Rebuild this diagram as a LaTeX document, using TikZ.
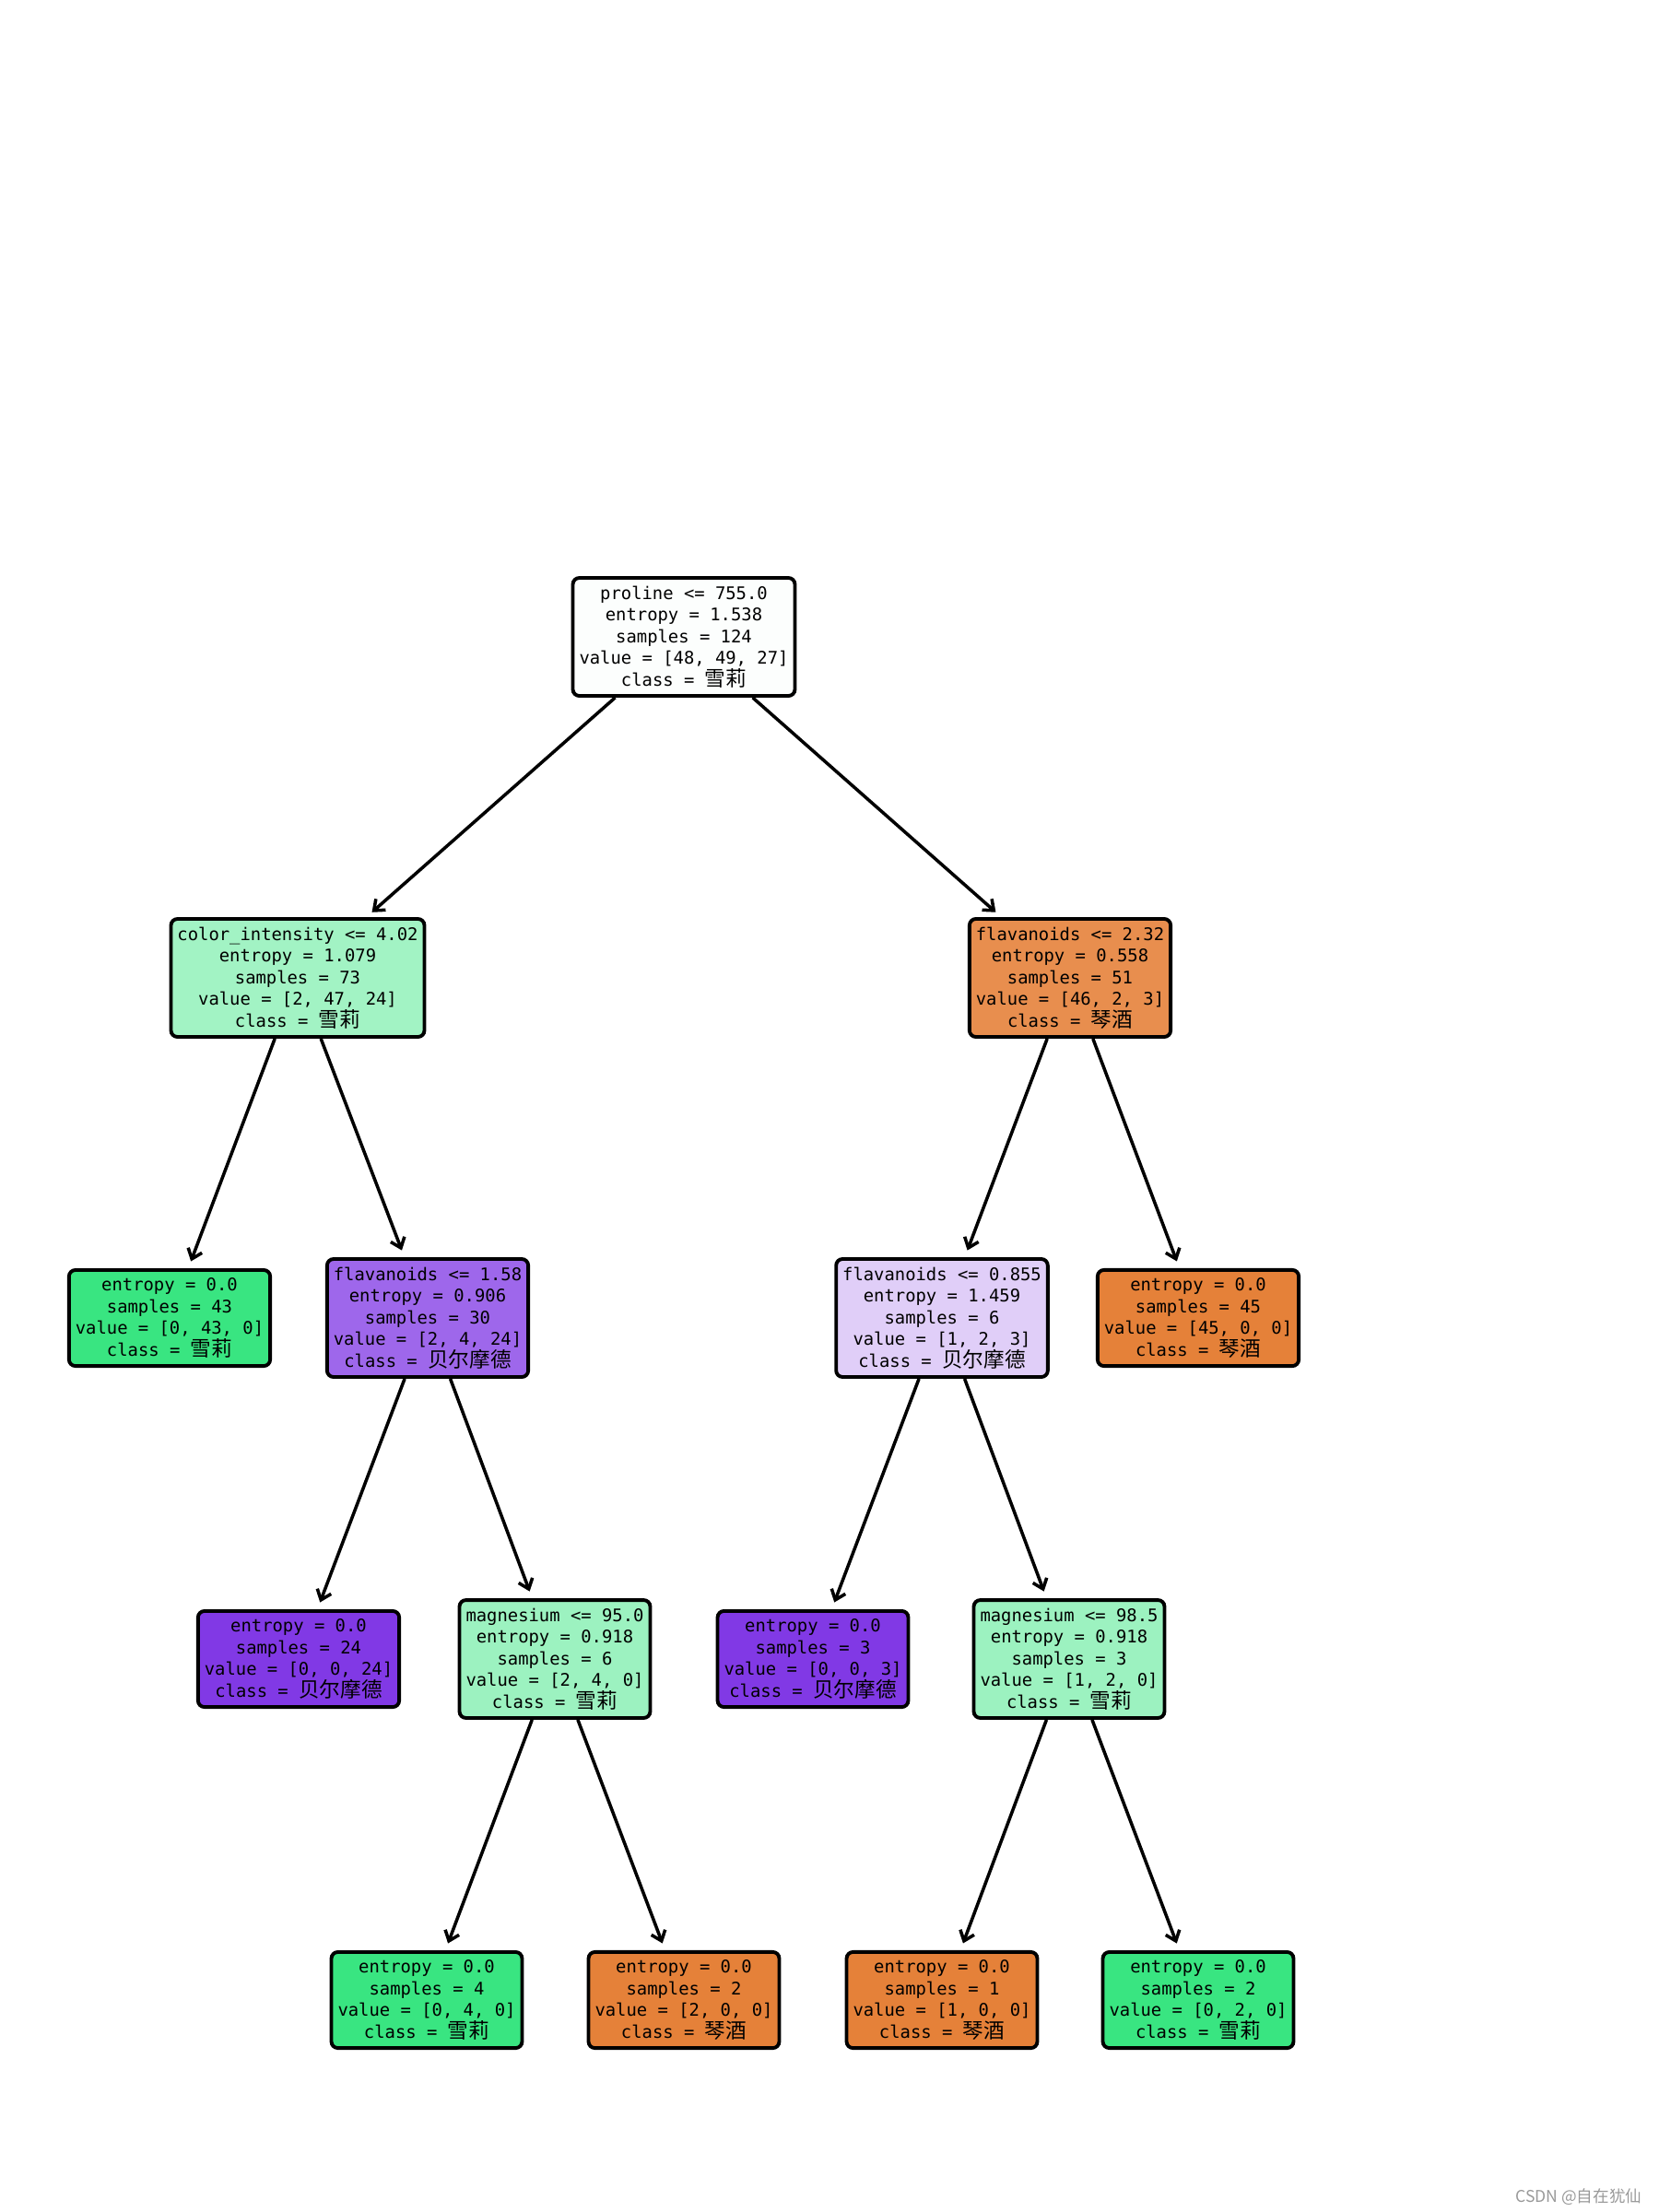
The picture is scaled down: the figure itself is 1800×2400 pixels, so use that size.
\documentclass[tikz,border=0pt]{standalone}
\usepackage{fontspec}
\newfontfamily\treefont{DejaVu Sans Mono}
\newfontfamily\cjk[Scale=1.2]{Noto Sans CJK SC}
\newfontfamily\markfont{Noto Sans CJK SC}
\usetikzlibrary{arrows.meta}
\definecolor{rootc}{HTML}{FCFEFD}
\definecolor{greenc}{HTML}{39E581}
\definecolor{orangec}{HTML}{E58139}
\definecolor{purplec}{HTML}{8139E5}
\definecolor{lgreen}{HTML}{A2F3C4}
\definecolor{mgreen}{HTML}{9CF2C0}
\definecolor{morange}{HTML}{E88E4E}
\definecolor{mpurple}{HTML}{9E67EB}
\definecolor{lpurple}{HTML}{E0CEF8}
\newcommand\tfont{\treefont\fontsize{5.36pt}{6.66pt}\selectfont\setlength{\lineskiplimit}{-5pt}}
\tikzset{
  tnode/.style={draw=black,rounded corners=0.7mm,line width=1.1pt,align=center,
                inner xsep=0.7mm,inner ysep=0.9mm,font=\tfont},
  gleaf/.style={tnode,fill=greenc},
  oleaf/.style={tnode,fill=orangec},
  pleaf/.style={tnode,fill=purplec},
  flow/.style ={-{Straight Barb[length=1mm,width=1.6mm]},line width=1pt,shorten >=0.8mm},
}
\begin{document}
\begin{tikzpicture}[x=0.01cm,y=-0.01cm]
  \useasboundingbox (0,0) rectangle (1800,2400);
  % depth 0
  \node[tnode,fill=rootc] (root) at (742,691)
    {proline <= 755.0\\entropy = 1.538\\samples = 124\\value = [48, 49, 27]\\class = {\cjk 雪莉}};
  % depth 1
  \node[tnode,fill=lgreen] (ci) at (323,1061)
    {color\_intensity <= 4.02\\entropy = 1.079\\samples = 73\\value = [2, 47, 24]\\class = {\cjk 雪莉}};
  \node[tnode,fill=morange] (fa) at (1161,1061)
    {flavanoids <= 2.32\\entropy = 0.558\\samples = 51\\value = [46, 2, 3]\\class = {\cjk 琴酒}};
  % depth 2
  \node[gleaf] (l43) at (184,1430)
    {entropy = 0.0\\samples = 43\\value = [0, 43, 0]\\class = {\cjk 雪莉}};
  \node[tnode,fill=mpurple] (fb) at (464,1430)
    {flavanoids <= 1.58\\entropy = 0.906\\samples = 30\\value = [2, 4, 24]\\class = {\cjk 贝尔摩德}};
  \node[tnode,fill=lpurple] (fc) at (1022,1430)
    {flavanoids <= 0.855\\entropy = 1.459\\samples = 6\\value = [1, 2, 3]\\class = {\cjk 贝尔摩德}};
  \node[oleaf] (l45) at (1300,1430)
    {entropy = 0.0\\samples = 45\\value = [45, 0, 0]\\class = {\cjk 琴酒}};
  % depth 3
  \node[pleaf] (l24) at (324,1800)
    {entropy = 0.0\\samples = 24\\value = [0, 0, 24]\\class = {\cjk 贝尔摩德}};
  \node[tnode,fill=mgreen] (ma) at (602,1800)
    {magnesium <= 95.0\\entropy = 0.918\\samples = 6\\value = [2, 4, 0]\\class = {\cjk 雪莉}};
  \node[pleaf] (l3) at (882,1800)
    {entropy = 0.0\\samples = 3\\value = [0, 0, 3]\\class = {\cjk 贝尔摩德}};
  \node[tnode,fill=mgreen] (mb) at (1160,1800)
    {magnesium <= 98.5\\entropy = 0.918\\samples = 3\\value = [1, 2, 0]\\class = {\cjk 雪莉}};
  % depth 4
  \node[gleaf] (l4) at (463,2170)
    {entropy = 0.0\\samples = 4\\value = [0, 4, 0]\\class = {\cjk 雪莉}};
  \node[oleaf] (l2a) at (742,2170)
    {entropy = 0.0\\samples = 2\\value = [2, 0, 0]\\class = {\cjk 琴酒}};
  \node[oleaf] (l1) at (1022,2170)
    {entropy = 0.0\\samples = 1\\value = [1, 0, 0]\\class = {\cjk 琴酒}};
  \node[gleaf] (l2b) at (1300,2170)
    {entropy = 0.0\\samples = 2\\value = [0, 2, 0]\\class = {\cjk 雪莉}};
  % edges
  \foreach \a/\b in {root/ci,root/fa,ci/l43,ci/fb,fa/fc,fa/l45,fb/l24,fb/ma,
                     fc/l3,fc/mb,ma/l4,ma/l2a,mb/l1,mb/l2b}
    \draw[flow] (\a) -- (\b);
  % watermark
  \node[font=\markfont\fontsize{5pt}{6pt}\selectfont,text=gray!80,anchor=east,inner sep=0pt]
    (mark) at (1782,2384) {CSDN @自在犹仙};
\end{tikzpicture}
\end{document}
